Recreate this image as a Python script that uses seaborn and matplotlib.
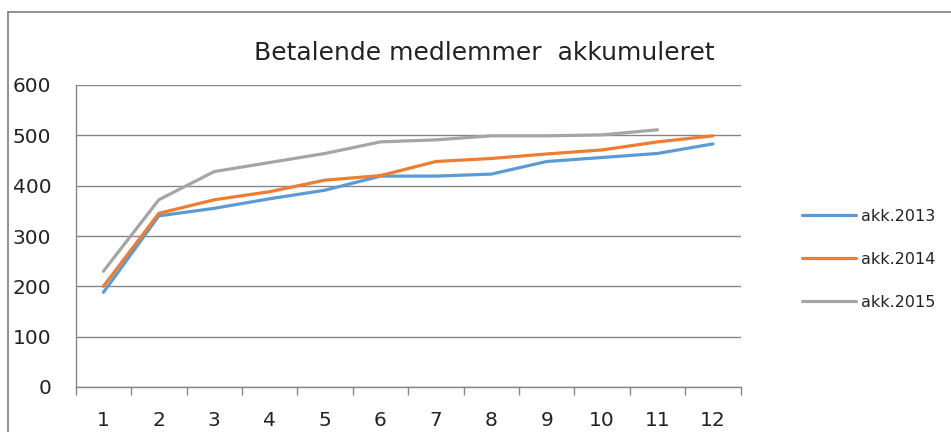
import matplotlib
matplotlib.use("Agg")
import matplotlib.pyplot as plt
import seaborn as sns
import pandas as pd
from matplotlib.lines import Line2D

months = list(range(1, 13))
akk_2013 = [188, 340, 355, 374, 391, 419, 419, 423, 448, 456, 464, 483]
akk_2014 = [200, 345, 372, 388, 411, 420, 448, 454, 463, 471, 487, 499]
akk_2015 = [230, 372, 428, 446, 464, 487, 491, 499, 499, 501, 511]
series_names = ["akk.2013", "akk.2014", "akk.2015"]
colors = ["#5B9BD5", "#ED7D31", "#A5A5A5"]
title = "Betalende medlemmer  akkumuleret"
yticks = [0, 100, 200, 300, 400, 500, 600]

rows = []
for name, vals in zip(series_names, [akk_2013, akk_2014, akk_2015]):
    for m, v in zip(months, vals):
        rows.append({"month": m, "value": v, "series": name})
df = pd.DataFrame(rows)

sns.set_theme(style="white")
plt.rcParams["font.family"] = ["DejaVu Sans"]

fig = plt.figure(figsize=(9.51, 4.32), dpi=100)
ax = fig.add_axes([75.7 / 951, 1 - 387 / 432, (740.7 - 75.7) / 951, (387 - 85) / 432])

sns.lineplot(data=df, x="month", y="value", hue="series", palette=colors,
             linewidth=2.3, ax=ax, legend=True)

ax.set_xlim(0.5, 12.5)
ax.set_ylim(0, 600)
ax.set_yticks(yticks)
ax.set_xticks(months)
ax.set_xticks([m + 0.5 for m in [0] + months], minor=True)
ax.set_xlabel("")
ax.set_ylabel("")
ax.yaxis.grid(True, color="#868686", linewidth=1.0)
ax.set_axisbelow(True)
for s in ["top", "right"]:
    ax.spines[s].set_visible(False)
for s in ["left", "bottom"]:
    ax.spines[s].set_color("#868686")
    ax.spines[s].set_linewidth(1.0)
ax.tick_params(axis="y", which="major", direction="out", length=6.5, width=1,
               color="#868686", labelsize=14.5, labelcolor="#222222", pad=11)
ax.tick_params(axis="x", which="major", length=0, labelsize=14.5,
               labelcolor="#222222", pad=17.5)
ax.tick_params(axis="x", which="minor", bottom=True, direction="out", length=6,
               width=1, color="#868686")

handles, labels = ax.get_legend_handles_labels()
if ax.legend_:
    ax.legend_.remove()
leg = fig.legend(handles, labels, loc="upper left",
                 bbox_to_anchor=(802 / 951, 1 - 209 / 432), frameon=False,
                 prop={"family": "DejaVu Sans", "size": 11.5}, handlelength=3.4,
                 handletextpad=0.3, labelspacing=1.75, borderpad=0,
                 borderaxespad=0)
for h in leg.get_lines():
    h.set_linewidth(2.3)
for t in leg.get_texts():
    t.set_color("#222222")

fig.text(484 / 951, 1 - 53 / 432, title, ha="center", va="center",
         fontsize=18, family="DejaVu Sans", color="#222222")

# chart frame (top and left borders)
fig.add_artist(Line2D([8 / 951, 1.0], [1 - 12 / 432] * 2, color="#7f7f7f",
                      linewidth=1.2, transform=fig.transFigure))
fig.add_artist(Line2D([8 / 951] * 2, [0, 1 - 12 / 432], color="#7f7f7f",
                      linewidth=1.2, transform=fig.transFigure))

fig.savefig("out.png", dpi=100)
